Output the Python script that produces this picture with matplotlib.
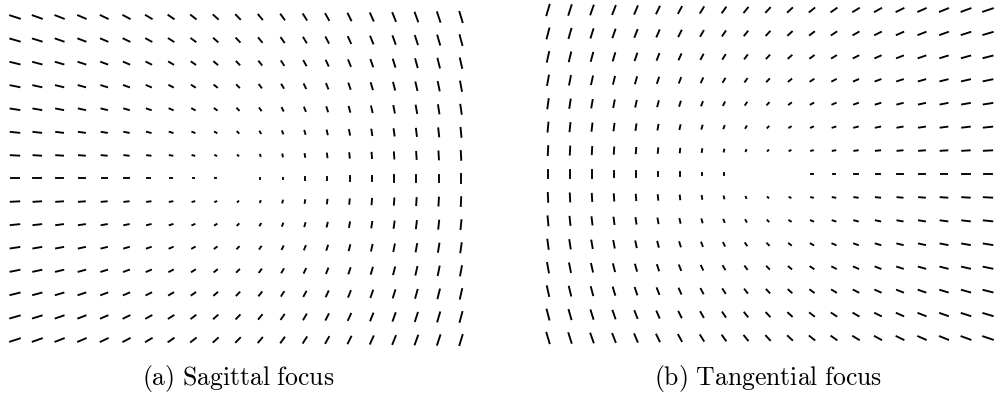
import numpy as np
import matplotlib
matplotlib.use("Agg")
import matplotlib.pyplot as plt
from matplotlib.collections import LineCollection

plt.rcParams["mathtext.fontset"] = "cm"

# Normalised field grid (21 x 15 sample points) and the astigmatic node
field_x = np.linspace(-1.0, 1.0, 21)
field_y = np.linspace(-0.7, 0.7, 15)
node_x, node_y = 0.0, 0.0
seg_scale = 0.019          # half length of a line image per unit field radius
line_width = 1.35

captions = [r"$\mathrm{(a)\ Sagittal\ focus}$", r"$\mathrm{(b)\ Tangential\ focus}$"]
# sagittal lines sit at 90 deg to the tangential ones
angle_offsets = [np.pi / 2, 0.0]

W, H = 997, 399
fig = plt.figure(figsize=(W / 100, H / 100), dpi=100)

# panel extents in pixels: left, right, top, bottom of the outer grid points
panels = [(15, 461, 17, 340), (548, 988, 10, 338)]


def focus_segments(offset):
    gx, gy = np.meshgrid(field_x, field_y)
    dx = gx - node_x
    dy = gy - node_y
    r = np.hypot(dx, dy)
    phi = np.arctan2(dy, dx)
    psi = phi / 2 + offset
    hx = seg_scale * r * np.cos(psi)
    hy = seg_scale * r * np.sin(psi)
    segs = np.stack([np.stack([gx - hx, gy - hy], -1),
                     np.stack([gx + hx, gy + hy], -1)], -2)
    return segs.reshape(-1, 2, 2)


for (x0, x1, y0, y1), off, cap in zip(panels, angle_offsets, captions):
    ax = fig.add_axes([x0 / W, 1 - y1 / H, (x1 - x0) / W, (y1 - y0) / H])
    ax.set_xlim(field_x[0], field_x[-1])
    ax.set_ylim(field_y[0], field_y[-1])
    lc = LineCollection(focus_segments(off), colors="black",
                        linewidths=line_width, capstyle="projecting", clip_on=False)
    ax.add_collection(lc)
    ax.axis("off")
    fig.text((x0 + x1) / 2 / W, 1 - 379 / H, cap, ha="center", va="center", fontsize=18.5)

fig.savefig("out.png", dpi=100)
